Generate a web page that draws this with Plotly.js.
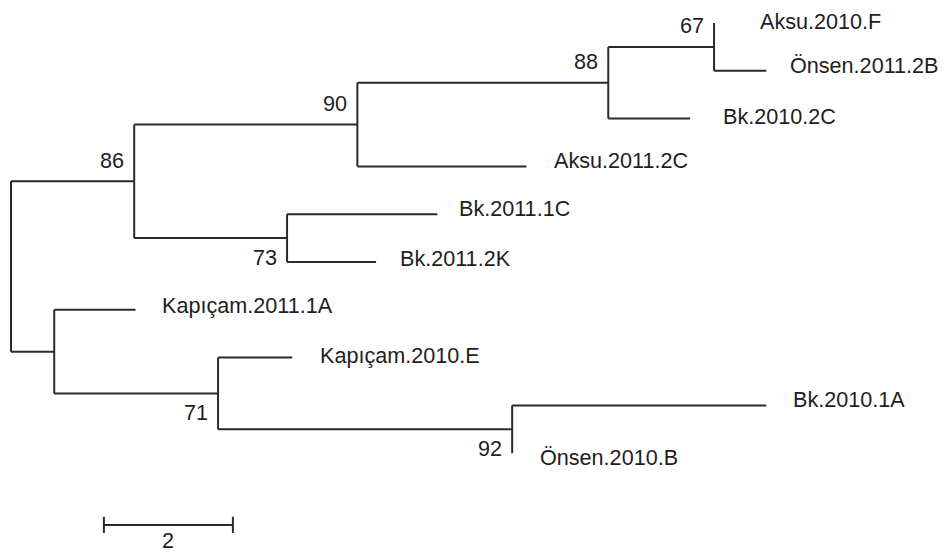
<!DOCTYPE html>
<html>
<head>
<meta charset="utf-8">
<script src="https://cdn.plot.ly/plotly-3.0.1.min.js"></script>
<style>html,body{margin:0;padding:0;background:#fff;}#chart{width:946px;height:554px;}</style>
</head>
<body>
<div id="chart"></div>
<script>
// ---- data: tree topology, branch lengths and bootstrap values ----
const nodeNames = ['root','c86','c90','c88','c67','Aksu.2010.F','Önsen.2011.2B','Bk.2010.2C','Aksu.2011.2C',
  'c73','Bk.2011.1C','Bk.2011.2K','cLow','Kapıçam.2011.1A','c71','Kapıçam.2010.E','c92','Bk.2010.1A','Önsen.2010.B'];
const parentNames = [null,'root','c86','c90','c88','c67','c67','c88','c90',
  'c86','c73','c73','root','cLow','cLow','c71','c71','c92','c92'];
const branchLengths = [0,1.91,3.46,3.89,1.64,0,0.81,1.27,2.62,
  2.37,2.33,1.38,0.67,1.26,2.54,1.15,4.56,3.94,0];
const bootstrap = [null,86,90,88,67,null,null,null,null,
  73,null,null,null,null,71,null,92,null,null];
const scaleBarLength = 2;

// ---- label nudges (pixels) : layout only ----
const labelGap = {'Aksu.2010.F':44,'Önsen.2011.2B':22,'Bk.2010.2C':31,'Aksu.2011.2C':26,'Bk.2011.1C':20,
  'Bk.2011.2K':22,'Kapıçam.2011.1A':25,'Kapıçam.2010.E':26,'Bk.2010.1A':25,'Önsen.2010.B':26};
const labelRise = {'Aksu.2010.F':2,'Önsen.2011.2B':5,'Bk.2010.2C':2,'Aksu.2011.2C':6,'Bk.2011.1C':6,
  'Bk.2011.2K':4,'Kapıçam.2011.1A':4,'Kapıçam.2010.E':2,'Bk.2010.1A':6,'Önsen.2010.B':-4};

// ---- build tree ----
const idx = {};
nodeNames.forEach((n,i)=>idx[n]=i);
const children = nodeNames.map(()=>[]);
parentNames.forEach((p,i)=>{ if(p!==null) children[idx[p]].push(i); });
const X = new Array(nodeNames.length), Y = new Array(nodeNames.length);
let leafCounter = 0;
function walk(i, xPar){
  X[i] = xPar + branchLengths[i];
  if(children[i].length===0){ Y[i] = leafCounter++; return; }
  children[i].forEach(c=>walk(c, X[i]));
  const ch = children[i];
  Y[i] = (Y[ch[0]] + Y[ch[ch.length-1]])/2;
}
walk(0, 0);

const lx=[], ly=[];
nodeNames.forEach((n,i)=>{
  const p = parentNames[i];
  if(p!==null){ lx.push(X[idx[p]], X[i], null); ly.push(Y[i], Y[i], null); }
  const ch = children[i];
  if(ch.length){ lx.push(X[i], X[i], null); ly.push(Y[ch[0]], Y[ch[ch.length-1]], null); }
});

const lineColor = '#2a2a2a';
const fontFam = 'Liberation Sans, Arial, sans-serif';
const txtColor = '#1e1e1e';
const fs = 21.6;

const traces = [{
  x: lx, y: ly, mode: 'lines', type: 'scatter', hoverinfo: 'skip',
  line: {color: lineColor, width: 2}, connectgaps: false
}];

// scale bar (position is layout)
const sbX0 = 1.44, sbY = 10.5, cap = 0.17;
traces.push({
  x: [sbX0, sbX0+scaleBarLength, null, sbX0, sbX0, null, sbX0+scaleBarLength, sbX0+scaleBarLength],
  y: [sbY, sbY, null, sbY-cap, sbY+cap, null, sbY-cap, sbY+cap],
  mode: 'lines', type: 'scatter', hoverinfo: 'skip', line: {color: lineColor, width: 2}
});

const annotations = [];
nodeNames.forEach((n,i)=>{
  if(children[i].length===0){
    annotations.push({x: X[i], y: Y[i], xref:'x', yref:'y', text: n, showarrow:false,
      xanchor:'left', yanchor:'middle', xshift: labelGap[n], yshift: labelRise[n],
      font:{family: fontFam, size: fs, color: txtColor}});
  }
  if(bootstrap[i]!==null){
    const p = parentNames[i];
    const isFirst = children[idx[p]][0]===i;
    annotations.push({x: X[i], y: Y[i], xref:'x', yref:'y', text: String(bootstrap[i]), showarrow:false,
      xanchor:'right', yanchor:'middle', xshift: -8, yshift: isFirst ? 21 : -19,
      font:{family: fontFam, size: fs, color: txtColor}});
  }
});
annotations.push({x: sbX0+scaleBarLength/2, y: sbY, xref:'x', yref:'y', text: String(scaleBarLength),
  showarrow:false, xanchor:'center', yanchor:'middle', yshift:-16,
  font:{family: fontFam, size: fs, color: txtColor}});

const layout = {
  width: 946, height: 554,
  margin: {l:0, r:0, t:0, b:0},
  paper_bgcolor: '#fff', plot_bgcolor: '#fff',
  showlegend: false,
  xaxis: {range: [-11/64.5, 935/64.5], visible: false, showgrid:false, zeroline:false, fixedrange:true},
  yaxis: {range: [531/47.8, -23/47.8], visible: false, showgrid:false, zeroline:false, fixedrange:true},
  annotations: annotations
};
Plotly.newPlot('chart', traces, layout, {staticPlot: true, displayModeBar: false});
</script>
</body>
</html>
